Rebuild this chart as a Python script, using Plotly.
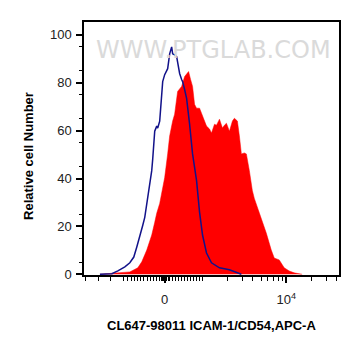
import numpy as np
import plotly.graph_objects as go

# x positions are in display-scale units (biexponential display, 0 = value 0)
sample_x = [-65, -57, -45, -35, -27, -23, -18, -13, -10, -8, -5, -2, 0, 3, 5, 8, 10, 13, 15, 17,
            20, 22, 24, 26, 28, 30, 32, 35, 38, 40, 42, 45, 47, 50, 52, 55, 58, 60, 62, 65,
            68, 70, 73, 75, 77, 80, 82, 85, 88, 90, 93, 98, 102, 107, 110, 115, 120, 125, 130, 138]
sample_y = [0, 0.2, 0.6, 1.0, 2.7, 5.2, 10.1, 16.4, 21.7, 25.5, 29.6, 37.1, 40.4, 50.3, 57.8, 64.0,
            66.9, 76.4, 77.6, 78.5, 82.6, 83.9, 84.7, 81.4, 78.5, 71.0, 69.4, 69.4, 66.1, 64.0,
            61.9, 60.7, 59.0, 62.7, 62.3, 64.8, 61.1, 62.3, 63.1, 59.8, 64.0, 65.2, 64.0, 57.8,
            50.3, 50.7, 50.3, 43.3, 35.0, 31.7, 28.0, 22.6, 17.2, 10.1, 6.8, 6.0, 2.7, 1.4, 0.6, 0]

control_x = [-65, -60, -53, -47, -40, -35, -31, -28, -25, -22, -20, -17, -15, -13, -12, -10, -8, -7,
             -5, -3, -2, 0, 2, 3, 5, 6, 7, 8, 10, 12, 13, 15, 17, 18, 20, 22, 25, 28, 32, 35,
             38, 42, 47, 55, 65, 72, 77]
control_y = [0, 0, 0.2, 1.4, 3.1, 4.8, 7.2, 11.4, 15.5, 20.5, 23.8, 32.1, 37.9, 43.3, 48.2, 59.8,
             61.9, 61.1, 64.0, 73.5, 80.5, 83.4, 84.7, 85.9, 92.1, 94.2, 95.0, 92.1, 91.7, 90.9,
             88.8, 83.9, 81.4, 80.5, 77.2, 73.5, 62.7, 50.3, 39.1, 26.0, 16.4, 8.9, 4.8, 2.7,
             1.9, 0.6, 0]

x_major_vals = [0, 122]
x_major_text = ["0", "10<sup>4</sup>"]
y_tick_vals = [0, 20, 40, 60, 80, 100]

# minor tick positions on the display scale (incl. unlabelled -10^3 and 10^3)
x_minor = ([-79, -66, -54, -41] + list(np.linspace(-37, -8, 10)) + list(np.linspace(-5, 5, 8))
           + list(np.linspace(8, 35, 10)) + [38]
           + [38 + 84 * np.log10(k) for k in range(2, 10)]
           + [122 + 84 * np.log10(k) for k in range(2, 5)])

fig = go.Figure()
fig.add_trace(go.Scatter(x=sample_x, y=sample_y, mode="lines", fill="tozeroy",
                         line=dict(color="#ff0000", width=0.5), fillcolor="#ff0000",
                         showlegend=False, hoverinfo="skip"))
fig.add_trace(go.Scatter(x=control_x, y=control_y, mode="lines",
                         line=dict(color="#12128a", width=1.5),
                         showlegend=False, hoverinfo="skip"))

# page body has an 8px margin, so the figure is shrunk/offset to land as in the reference
fig.update_layout(
    width=345, height=340,
    margin=dict(l=76, r=13, t=12, b=73),
    paper_bgcolor="white", plot_bgcolor="white",
    font=dict(family="Arial, Liberation Sans", size=13, color="#222"),
    xaxis=dict(range=[-81, 175], showgrid=False, zeroline=False,
               showline=True, linecolor="black", linewidth=1.5, mirror=True,
               tickmode="array", tickvals=x_major_vals, ticktext=x_major_text,
               ticks="outside", ticklen=6, tickwidth=1.5, tickcolor="black",
               ticklabelstandoff=6,
               minor=dict(tickmode="array", tickvals=x_minor, ticks="outside",
                          ticklen=4, tickwidth=1, tickcolor="black", showgrid=False)),
    yaxis=dict(range=[-0.3, 105.4], showgrid=False, zeroline=False,
               showline=True, linecolor="black", linewidth=1.5, mirror=True,
               tickmode="array", tickvals=y_tick_vals,
               ticks="outside", ticklen=6, tickwidth=1.5, tickcolor="black",
               ticklabelstandoff=2,
               minor=dict(tickmode="array", tickvals=list(range(5, 105, 10)), ticks="outside",
                          ticklen=3, tickwidth=1, tickcolor="black", showgrid=False)),
)

fig.add_annotation(text="WWW.PTGLAB.COM", xref="paper", yref="paper", x=0.508, y=0.953,
                   showarrow=False, font=dict(family="DejaVu Sans", size=24,
                                              color="#dadada"))
fig.add_annotation(text="<b>Relative cell Number</b>", xref="paper", yref="paper",
                   x=-0.22, y=0.47, textangle=-90, showarrow=False, xanchor="center",
                   font=dict(family="Arial, Liberation Sans", size=13, color="black"))
fig.add_annotation(text="<b>CL647-98011 ICAM-1/CD54,APC-A</b>", xref="paper", yref="paper",
                   x=0.5, y=-0.2, showarrow=False, yanchor="middle",
                   font=dict(family="Arial, Liberation Sans", size=13, color="black"))

fig.write_html("out.html")
